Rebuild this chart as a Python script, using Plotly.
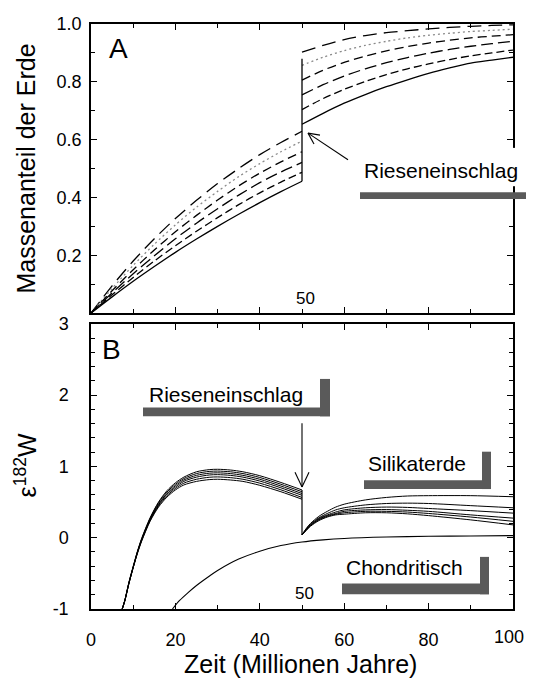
import plotly.graph_objects as go

# ---------------- data ----------------
# Panel A: mass fraction of the Earth
XA_PRE = [0, 5, 10, 15, 20, 25, 30, 35, 40, 45, 50]
A1_PRE = [0, 0.094, 0.180, 0.257, 0.327, 0.390, 0.448, 0.500, 0.548, 0.590, 0.629]
A2_PRE = [0, 0.085, 0.165, 0.238, 0.305, 0.366, 0.421, 0.472, 0.517, 0.558, 0.595]
A3_PRE = [0, 0.077, 0.150, 0.218, 0.281, 0.338, 0.391, 0.440, 0.484, 0.523, 0.558]
A4_PRE = [0, 0.070, 0.136, 0.198, 0.257, 0.311, 0.361, 0.408, 0.451, 0.488, 0.521]
A5_PRE = [0, 0.063, 0.123, 0.180, 0.233, 0.283, 0.330, 0.375, 0.416, 0.453, 0.487]
A6_PRE = [0, 0.056, 0.110, 0.161, 0.210, 0.256, 0.300, 0.342, 0.382, 0.420, 0.456]

XA_POST = [50, 55, 60, 65, 70, 75, 80, 85, 90, 95, 100]
A1_POST = [0.903, 0.926, 0.946, 0.960, 0.970, 0.977, 0.983, 0.988, 0.992, 0.995, 0.997]
A2_POST = [0.857, 0.885, 0.908, 0.926, 0.940, 0.952, 0.961, 0.968, 0.974, 0.978, 0.982]
A3_POST = [0.806, 0.840, 0.867, 0.889, 0.907, 0.922, 0.934, 0.944, 0.952, 0.958, 0.963]
A4_POST = [0.755, 0.790, 0.820, 0.845, 0.866, 0.884, 0.899, 0.912, 0.923, 0.932, 0.940]
A5_POST = [0.704, 0.742, 0.774, 0.801, 0.825, 0.845, 0.862, 0.877, 0.890, 0.900, 0.910]
A6_POST = [0.653, 0.691, 0.726, 0.756, 0.783, 0.807, 0.829, 0.848, 0.865, 0.875, 0.885]

A_IMPACT_X = [50, 50]
A_IMPACT_Y = [0.456, 0.880]

# Panel B: epsilon 182W
XB_PRE = [7.4, 8, 9, 10, 11, 12, 14, 16, 18, 20, 22, 25, 28, 30, 33, 36, 40, 45, 50]
B1_PRE = [-1.0, -0.88, -0.62, -0.40, -0.19, -0.01, 0.28, 0.50, 0.66, 0.77, 0.85, 0.925, 0.955, 0.96, 0.95, 0.925, 0.87, 0.775, 0.67]
B2_PRE = [-1.0, -0.88, -0.63, -0.41, -0.20, -0.02, 0.27, 0.49, 0.64, 0.75, 0.83, 0.90, 0.93, 0.935, 0.925, 0.90, 0.845, 0.75, 0.645]
B3_PRE = [-1.0, -0.885, -0.63, -0.41, -0.20, -0.03, 0.26, 0.47, 0.62, 0.73, 0.81, 0.875, 0.905, 0.91, 0.90, 0.875, 0.82, 0.725, 0.62]
B4_PRE = [-1.0, -0.885, -0.635, -0.415, -0.21, -0.03, 0.25, 0.46, 0.61, 0.71, 0.79, 0.85, 0.88, 0.885, 0.875, 0.85, 0.795, 0.70, 0.595]
B5_PRE = [-1.0, -0.89, -0.64, -0.42, -0.215, -0.04, 0.24, 0.445, 0.59, 0.69, 0.765, 0.82, 0.848, 0.853, 0.843, 0.82, 0.765, 0.672, 0.565]
B6_PRE = [-1.0, -0.89, -0.64, -0.42, -0.22, -0.05, 0.23, 0.43, 0.57, 0.67, 0.74, 0.79, 0.815, 0.82, 0.81, 0.79, 0.735, 0.645, 0.54]

XB_POST = [50, 51, 52, 54, 56, 58, 60, 65, 70, 75, 80, 90, 100]
B1_POST = [0.04, 0.13, 0.20, 0.30, 0.37, 0.43, 0.47, 0.53, 0.565, 0.585, 0.59, 0.59, 0.575]
B2_POST = [0.04, 0.12, 0.19, 0.28, 0.34, 0.39, 0.42, 0.46, 0.48, 0.485, 0.48, 0.45, 0.42]
B3_POST = [0.04, 0.12, 0.18, 0.27, 0.32, 0.36, 0.39, 0.42, 0.43, 0.425, 0.41, 0.38, 0.345]
B4_POST = [0.04, 0.11, 0.17, 0.26, 0.31, 0.34, 0.37, 0.39, 0.395, 0.385, 0.37, 0.32, 0.275]
B5_POST = [0.04, 0.11, 0.17, 0.25, 0.30, 0.33, 0.35, 0.37, 0.37, 0.36, 0.34, 0.29, 0.23]
B6_POST = [0.04, 0.10, 0.16, 0.24, 0.29, 0.32, 0.33, 0.35, 0.35, 0.335, 0.31, 0.25, 0.18]

B_IMPACT_X = [50, 50]
B_IMPACT_Y = [0.67, 0.04]

X_CHOND = [19.3, 21, 23, 25, 28, 30, 35, 40, 45, 50, 55, 60, 70, 80, 90, 100]
Y_CHOND = [-1.0, -0.88, -0.77, -0.67, -0.54, -0.46, -0.30, -0.19, -0.11, -0.06, -0.03, -0.01, 0.01, 0.02, 0.025, 0.03]

X_TICKS = [0, 20, 40, 60, 80, 100]
X_TICKTEXT = ["0", "20", "40", "60", "80", ""]   # "100" is placed as an edge label below
X_LAST_LABEL = "100"
YA_TICKS = [0.2, 0.4, 0.6, 0.8, 1.0]
YA_TICKTEXT = ["0.2", "0.4", "0.6", "0.8", "1.0"]
YB_TICKS = [-1, 0, 1, 2, 3]
YB_TICKTEXT = ["-1", "0", "1", "2", "3"]

# ---------------- layout helpers ----------------
PAGE_W, PAGE_H = 534, 684
OFF = 8                      # default body margin of the page
W, H = PAGE_W - OFF, PAGE_H - OFF
L, R, T, B = 91, 513, 14, 609  # plot area pixel box in page coordinates


def px(xp, yp):
    return (xp - L) / (R - L), (B - yp) / (B - T)


FONT = "Liberation Sans, Arial, sans-serif"

fig = go.Figure()

a_styles = [
    dict(dash="14px,7px", color="black", width=1.3),
    dict(dash="2px,3px", color="#8a8a8a", width=1.3),
    dict(dash="9px,5px", color="black", width=1.3),
    dict(dash="12px,5px", color="black", width=1.3),
    dict(dash="8px,4px", color="black", width=1.3),
    dict(dash="solid", color="black", width=1.3),
]
for ys_pre, ys_post, st in zip(
    [A1_PRE, A2_PRE, A3_PRE, A4_PRE, A5_PRE, A6_PRE],
    [A1_POST, A2_POST, A3_POST, A4_POST, A5_POST, A6_POST],
    a_styles,
):
    for xs, ys in ((XA_PRE, ys_pre), (XA_POST, ys_post)):
        fig.add_trace(go.Scatter(x=xs, y=ys, mode="lines", line=dict(shape="spline", smoothing=0.8, **st),
                                 xaxis="x", yaxis="y", showlegend=False, hoverinfo="skip"))
fig.add_trace(go.Scatter(x=A_IMPACT_X, y=A_IMPACT_Y, mode="lines", line=dict(color="black", width=1.3),
                         xaxis="x", yaxis="y", showlegend=False, hoverinfo="skip"))

for ys in [B1_PRE, B2_PRE, B3_PRE, B4_PRE, B5_PRE, B6_PRE]:
    fig.add_trace(go.Scatter(x=XB_PRE, y=ys, mode="lines", line=dict(shape="spline", smoothing=0.8, color="black", width=1),
                             xaxis="x2", yaxis="y2", showlegend=False, hoverinfo="skip"))
for ys in [B1_POST, B2_POST, B3_POST, B4_POST, B5_POST, B6_POST]:
    fig.add_trace(go.Scatter(x=XB_POST, y=ys, mode="lines", line=dict(shape="spline", smoothing=0.8, color="black", width=1),
                             xaxis="x2", yaxis="y2", showlegend=False, hoverinfo="skip"))
fig.add_trace(go.Scatter(x=B_IMPACT_X, y=B_IMPACT_Y, mode="lines", line=dict(color="black", width=1.2),
                         xaxis="x2", yaxis="y2", showlegend=False, hoverinfo="skip"))
fig.add_trace(go.Scatter(x=X_CHOND, y=Y_CHOND, mode="lines", line=dict(shape="spline", smoothing=0.8, color="black", width=1.1),
                         xaxis="x2", yaxis="y2", showlegend=False, hoverinfo="skip"))

top_lo = (B - 308) / (B - T)
bot_hi = (B - 319) / (B - T)

axis_common = dict(showline=True, linecolor="black", linewidth=1.5, mirror="allticks", ticks="inside",
                   ticklen=6, tickcolor="black", tickwidth=1, showgrid=False, zeroline=False,
                   tickfont=dict(family=FONT, size=18, color="black"))

fig.update_layout(
    width=W, height=H,
    margin=dict(l=L - OFF, r=PAGE_W - R, t=T - OFF, b=PAGE_H - B, pad=0),
    paper_bgcolor="white", plot_bgcolor="white",
    xaxis=dict(domain=[0, 1], range=[0, 100], anchor="y", tickvals=X_TICKS, showticklabels=False,
               minor=dict(dtick=10, ticks="inside", ticklen=4, tickcolor="black"), **axis_common),
    yaxis=dict(domain=[top_lo, 1], range=[0, 1], anchor="x", tickvals=YA_TICKS, ticktext=YA_TICKTEXT,
               ticklabelstandoff=4,
               minor=dict(dtick=0.1, ticks="inside", ticklen=4, tickcolor="black"), **axis_common),
    xaxis2=dict(domain=[0, 1], range=[0, 100], anchor="y2", tickvals=X_TICKS, ticktext=X_TICKTEXT,
                ticklabelstandoff=14,
                minor=dict(dtick=10, ticks="inside", ticklen=4, tickcolor="black"), **axis_common),
    yaxis2=dict(domain=[0, bot_hi], range=[-1, 3], anchor="x2", tickvals=YB_TICKS, ticktext=YB_TICKTEXT,
                ticklabelstandoff=17,
                minor=dict(dtick=0.2, ticks="inside", ticklen=4, tickcolor="black"), **axis_common),
)

shapes = []


def rect(x0, y0, x1, y1, color="#5a5a5a"):
    p0 = px(x0, y1)
    p1 = px(x1, y0)
    shapes.append(dict(type="rect", xref="paper", yref="paper", x0=p0[0], y0=p0[1], x1=p1[0], y1=p1[1],
                       fillcolor=color, line=dict(width=0), layer="above"))


def seg(x0, y0, x1, y1, w=1.1):
    p0 = px(x0, y0)
    p1 = px(x1, y1)
    shapes.append(dict(type="line", xref="paper", yref="paper", x0=p0[0], y0=p0[1], x1=p1[0], y1=p1[1],
                       line=dict(color="black", width=w), layer="above"))


# white gap in the right frame behind the top label
rect(505, 140, 521, 179, color="white")
# shaded label bars
rect(360, 185, 534, 192)
rect(143, 404, 330, 413)
rect(320, 375, 330, 413)
rect(364, 478, 491, 487)
rect(482, 449, 491, 487)
rect(342, 583, 489, 594)
rect(480, 556, 489, 594)
# arrows
seg(348, 152, 308, 125)
seg(308, 125, 314, 136)
seg(308, 125, 320, 127)
seg(302, 420, 302, 485)
seg(302, 485, 295, 470)
seg(302, 485, 309, 470)

annotations = []


def text(s, xp, yp, size=21, angle=0, bg=None, xanchor="center"):
    p = px(xp, yp)
    d = dict(text=s, xref="paper", yref="paper", x=p[0], y=p[1], xanchor=xanchor, yanchor="middle",
             showarrow=False, textangle=angle, font=dict(family=FONT, size=size, color="black"), borderpad=0)
    if bg:
        d["bgcolor"] = bg
    annotations.append(d)


text("A", 118.5, 39, size=28)
text("B", 111.5, 345, size=28)
text("Rieseneinschlag", 441, 163, bg="white")
text("Rieseneinschlag", 226, 391)
text("Silikaterde", 417, 461)
text("Chondritisch", 404, 567)
text("50", 305, 293, size=17)
text("50", 304, 593, size=17)
text(X_LAST_LABEL, 525, 637, size=18, xanchor="right")
text("Massenanteil der Erde", 26, 161, size=25, angle=-90)
text("ε<sup>182</sup>W", 26, 463, size=25, angle=-90)
text("Zeit (Millionen Jahre)", 300, 665, size=25)

fig.update_layout(shapes=shapes, annotations=annotations)

fig.write_html("out.html", config={"displayModeBar": False})
